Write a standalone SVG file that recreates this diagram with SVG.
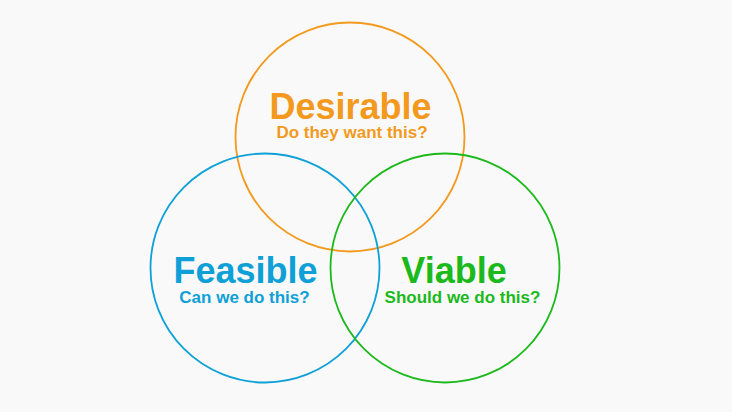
<svg xmlns="http://www.w3.org/2000/svg" width="732" height="412" viewBox="0 0 732 412">
<style>
.ring{fill:none;stroke-width:1.8}
.t{font-family:"Liberation Sans",Arial,sans-serif;font-weight:bold;text-anchor:middle}
.big{font-size:36px}
.sub{font-size:17px}
.o{fill:#F39A1E}.b{fill:#0EA0D6}.g{fill:#1CB91C}
</style>
<rect width="732" height="412" fill="#F9F9F9"/>
<g id="connectors"></g>
<g id="desirable">
<circle class="ring" cx="350" cy="137" r="114.5" stroke="#F39A1E"/>
<text class="t big o" x="350.5" y="119" font-size="37">Desirable</text>
<text class="t sub o" x="352" y="138">Do they want this?</text>
</g>
<g id="feasible">
<circle class="ring" cx="265" cy="268" r="114.5" stroke="#0EA0D6"/>
<text class="t big b" x="245.5" y="283">Feasible</text>
<text class="t sub b" x="244.5" y="303">Can we do this?</text>
</g>
<g id="viable">
<circle class="ring" cx="445" cy="268" r="114.5" stroke="#1CB91C"/>
<text class="t big g" x="454" y="283">Viable</text>
<text class="t sub g" x="462.5" y="303">Should we do this?</text>
</g>
</svg>
